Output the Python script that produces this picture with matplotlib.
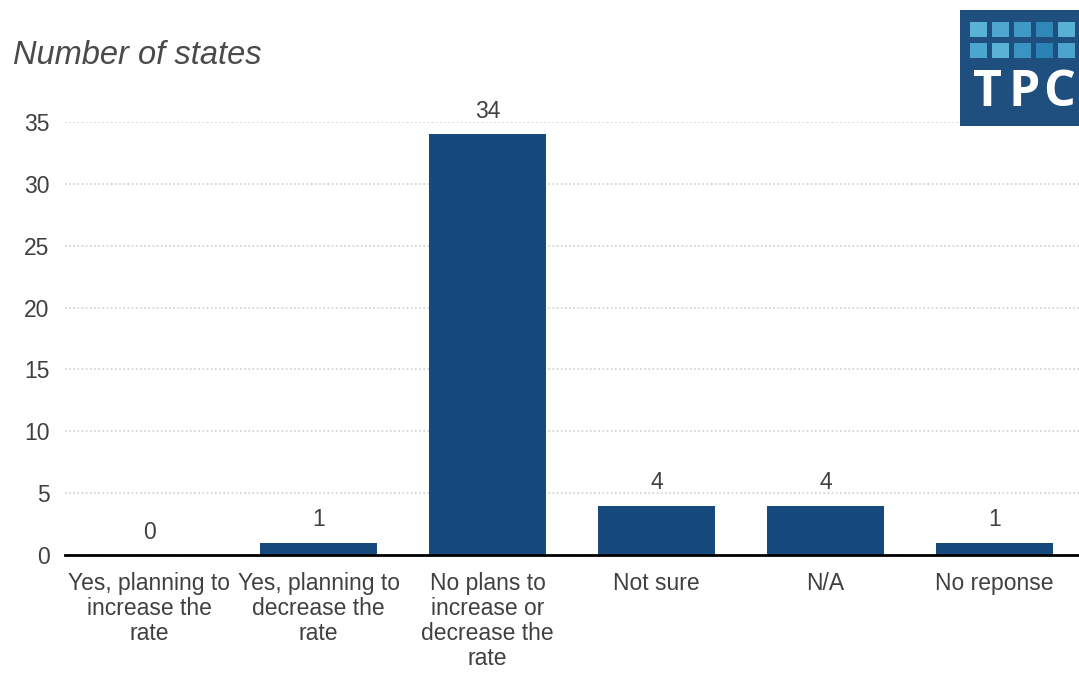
import matplotlib
matplotlib.use("Agg")
import matplotlib.pyplot as plt
from matplotlib.patches import Rectangle

categories = ["Yes, planning to\nincrease the\nrate",
              "Yes, planning to\ndecrease the\nrate",
              "No plans to\nincrease or\ndecrease the\nrate",
              "Not sure", "N/A", "No reponse"]
values = [0, 1, 34, 4, 4, 1]
yticks = [0, 5, 10, 15, 20, 25, 30, 35]

plt.rcParams['font.family'] = ['Liberation Sans', 'DejaVu Sans']
W, H = 1079, 673
fig = plt.figure(figsize=(W / 100, H / 100), dpi=100)
ax = fig.add_axes([65 / W, (H - 555) / H, 1 - 65 / W, (555 - 122) / H])

bar_color = "#174A7C"
text_color = "#404040"
fs = 16.5
x = list(range(len(categories)))
ax.bar(x, values, width=0.69, color=bar_color, zorder=3)
for xi, v in zip(x, values):
    ax.text(xi, v + 0.9, str(v), ha="center", va="bottom", fontsize=fs,
            color=text_color, clip_on=False)

ax.set_xlim(-0.5, len(categories) - 0.5)
ax.set_ylim(0, 35)
ax.set_yticks(yticks)
ax.set_yticklabels([str(t) for t in yticks], fontsize=fs, color=text_color)
ax.set_xticks(x)
ax.set_xticklabels(categories, fontsize=fs, color=text_color, linespacing=1.12)
ax.tick_params(axis="x", length=0, pad=12)
ax.tick_params(axis="y", length=0, pad=11)
ax.grid(axis="y", color="#d0d0d0", linestyle=(0, (1, 1.5)), linewidth=1.2, zorder=0)
for s in ["top", "right", "left"]:
    ax.spines[s].set_visible(False)
ax.spines["bottom"].set_color("black")
ax.spines["bottom"].set_linewidth(2)
ax.spines["bottom"].set_zorder(4)

fig.text(13 / W, 1 - 56 / H, "Number of states", fontsize=23.5, style="italic",
         color="#4a4a4a", ha="left", va="center")

# Logo
lx0, ly0, lx1, ly1 = 960, 10, 1079, 126
fig.patches.append(Rectangle((lx0 / W, 1 - ly1 / H), (lx1 - lx0) / W, (ly1 - ly0) / H,
                             transform=fig.transFigure, facecolor="#1F4F7F",
                             edgecolor="none", zorder=5))
sq_colors = [["#5AB3D6", "#4FA7CF", "#3F99C6", "#2F88B8", "#58B0D4"],
             ["#4CA5CE", "#5AB3D6", "#3A93C2", "#2A83B4", "#4CA3CD"]]
for r, ytop in enumerate([22, 43]):
    for c in range(5):
        xl = 970 + c * 22
        fig.patches.append(Rectangle((xl / W, 1 - (ytop + 15) / H), 17 / W, 15 / H,
                                     transform=fig.transFigure,
                                     facecolor=sq_colors[r][c], edgecolor="none", zorder=6))
for letter, cx in zip("TPC", [988, 1024, 1059]):
    fig.text(cx / W, 1 - 93 / H, letter, fontsize=36, fontweight="bold", color="white",
             family=["Open Sans", "DejaVu Sans"], ha="center", va="center", zorder=7)

fig.savefig("out.png", dpi=100)
